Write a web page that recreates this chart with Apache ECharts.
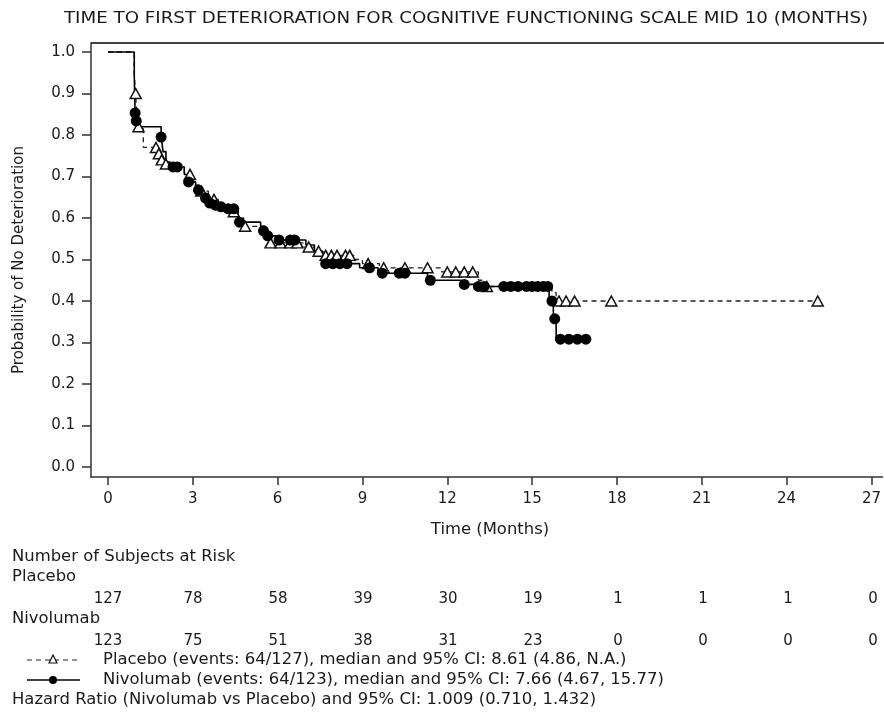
<!DOCTYPE html>
<html><head><meta charset="utf-8">
<script src="https://cdn.jsdelivr.net/npm/echarts@6/dist/echarts.min.js"></script>
<style>html,body{margin:0;padding:0;background:#fff}#c{width:884px;height:714px}</style>
</head><body><div id="c"></div>
<script>
// ---- data ----
const xTicks = [0, 3, 6, 9, 12, 15, 18, 21, 24, 27];
const yTicks = [0, 0.1, 0.2, 0.3, 0.4, 0.5, 0.6, 0.7, 0.8, 0.9, 1.0];
const placeboRisk = [127, 78, 58, 39, 30, 19, 1, 1, 1, 0];
const nivoRisk = [123, 75, 51, 38, 31, 23, 0, 0, 0, 0];

// step points [time, survival after the drop]
const placeboSteps = [
  [0,1.0],[0.93,0.95],[0.97,0.90],[1.02,0.86],[1.06,0.82],[1.25,0.77],[1.75,0.755],[1.85,0.74],
  [1.95,0.73],[2.3,0.72],[2.7,0.705],[3.0,0.68],[3.25,0.665],[3.55,0.645],[3.9,0.632],[4.3,0.615],
  [4.6,0.60],[4.8,0.58],[5.6,0.555],[5.72,0.54],[6.9,0.53],[7.3,0.52],[7.6,0.51],[8.7,0.50],
  [9.0,0.49],[9.6,0.48],[11.8,0.47],[13.1,0.45],[13.3,0.435],[15.7,0.42],[15.85,0.40],[25.1,0.40]
];
const placeboCensor = [
  [0.98,0.90],[1.08,0.82],[1.7,0.77],[1.8,0.755],[1.9,0.74],[2.05,0.73],[2.9,0.705],[3.3,0.665],
  [3.75,0.645],[4.45,0.615],[4.85,0.58],[5.75,0.54],[6.1,0.54],[6.45,0.54],[6.7,0.54],[7.1,0.53],
  [7.45,0.52],[7.7,0.51],[7.9,0.51],[8.1,0.51],[8.4,0.51],[8.55,0.51],[9.2,0.49],[9.75,0.48],
  [10.5,0.48],[11.3,0.48],[12.0,0.47],[12.3,0.47],[12.6,0.47],[12.9,0.47],[13.4,0.435],
  [15.95,0.40],[16.2,0.40],[16.5,0.40],[17.8,0.40],[25.1,0.40]
];
const nivoSteps = [
  [0,1.0],[0.93,0.94],[0.96,0.853],[1.0,0.834],[1.04,0.82],[1.88,0.795],[1.95,0.76],[2.05,0.735],
  [2.2,0.723],[2.7,0.705],[2.8,0.687],[3.1,0.667],[3.4,0.648],[3.55,0.636],[3.75,0.631],[3.95,0.627],
  [4.2,0.622],[4.6,0.59],[5.4,0.575],[5.5,0.569],[5.62,0.557],[5.95,0.547],[7.0,0.535],[7.3,0.52],
  [7.6,0.49],[8.9,0.48],[9.55,0.467],[11.3,0.45],[12.5,0.44],[13.0,0.435],[15.6,0.40],
  [15.75,0.357],[15.85,0.308],[16.95,0.308]
];
const nivoCensor = [
  [0.96,0.853],[1.0,0.834],[1.88,0.795],[2.3,0.723],[2.45,0.723],[2.85,0.687],[3.2,0.667],[3.45,0.648],
  [3.6,0.636],[3.8,0.631],[4.0,0.627],[4.25,0.622],[4.45,0.622],[4.65,0.59],[5.5,0.569],[5.65,0.557],
  [6.05,0.547],[6.45,0.547],[6.6,0.547],[7.7,0.49],[7.95,0.49],[8.2,0.49],[8.45,0.49],[9.25,0.48],
  [9.7,0.467],[10.3,0.467],[10.5,0.467],[11.4,0.45],[12.6,0.44],[13.1,0.435],[13.3,0.435],[14.0,0.435],
  [14.25,0.435],[14.5,0.435],[14.8,0.435],[15.0,0.435],[15.2,0.435],[15.4,0.435],[15.55,0.435],
  [15.7,0.40],[15.8,0.357],[16.0,0.308],[16.3,0.308],[16.6,0.308],[16.9,0.308]
];

const titleText = 'TIME TO FIRST DETERIORATION FOR COGNITIVE FUNCTIONING SCALE MID 10 (MONTHS)';
const xName = 'Time (Months)';
const yName = 'Probability of No Deterioration';
const legendPlacebo = 'Placebo (events: 64/127), median and 95% CI: 8.61 (4.86, N.A.)';
const legendNivo = 'Nivolumab (events: 64/123), median and 95% CI: 7.66 (4.67, 15.77)';
const hazardText = 'Hazard Ratio (Nivolumab vs Placebo) and 95% CI: 1.009 (0.710, 1.432)';

// ---- chart ----
const FONT = 'DejaVu Sans';
const FS = 15;
const SX = 1.095;
const TXT = '#1a1a1a';
const chart = echarts.init(document.getElementById('c'), null, {renderer: 'canvas'});

function riskAxis(gridIndex, arr) {
  return {
    type: 'value', gridIndex, min: 0, max: 27, interval: 3,
    axisLine: {show: false}, axisTick: {show: false}, splitLine: {show: false},
    axisLabel: {margin: 10, fontFamily: FONT, fontSize: FS, color: TXT,
      formatter: v => { const i = xTicks.indexOf(v); return i >= 0 ? String(arr[i]) : ''; }}
  };
}

const txt = (x, y, text, opts) => {
  opts = opts || {};
  return {
    type: 'text', x, y, silent: true, scaleX: opts.scaleX || SX,
    style: {text, fontFamily: FONT, fontSize: opts.fontSize || FS, fill: TXT,
      textVerticalAlign: 'middle', textAlign: opts.align || 'left'}
  };
};

const option = {
  animation: false,
  backgroundColor: '#fff',
  grid: [
    {left: 91, right: 0, top: 43, bottom: 237},
    {left: 108, right: 11, top: 581, height: 1},
    {left: 108, right: 11, top: 623, height: 1}
  ],
  xAxis: [
    {type: 'value', gridIndex: 0, min: -0.6, max: 27.39,
     axisLine: {show: true, onZero: false, lineStyle: {color: '#333', width: 1.5}},
     axisTick: {show: true, length: 8, customValues: xTicks, lineStyle: {color: '#333', width: 1.5}},
     splitLine: {show: false},
     axisLabel: {margin: 15, customValues: xTicks, fontFamily: FONT, fontSize: FS, color: TXT}},
    riskAxis(1, placeboRisk),
    riskAxis(2, nivoRisk)
  ],
  yAxis: [
    {type: 'value', gridIndex: 0, min: -0.0241, max: 1.0217,
     name: yName, nameLocation: 'middle', nameGap: 64, nameRotate: 90,
     nameTextStyle: {fontFamily: FONT, fontSize: FS, color: TXT},
     axisLine: {show: true, onZero: false, lineStyle: {color: '#333', width: 1.5}},
     axisTick: {show: true, length: 9, customValues: yTicks, lineStyle: {color: '#333', width: 1.5}},
     splitLine: {show: false},
     axisLabel: {margin: 16, customValues: yTicks, fontFamily: FONT, fontSize: FS, color: TXT,
       formatter: v => v.toFixed(1)}},
    {type: 'value', gridIndex: 1, show: false},
    {type: 'value', gridIndex: 2, show: false}
  ],
  series: [
    {type: 'line', name: 'Placebo', step: 'end', data: placeboSteps, symbol: 'none',
     lineStyle: {color: '#222', width: 1.3, type: [5, 4]}, z: 2},
    {type: 'line', name: 'Nivolumab', step: 'end', data: nivoSteps, symbol: 'none',
     lineStyle: {color: '#000', width: 1.6}, z: 3},
    {type: 'scatter', name: 'Placebo censored', data: placeboCensor, symbol: 'triangle', symbolSize: [11, 10],
     itemStyle: {color: '#fff', borderColor: '#111', borderWidth: 1.5, opacity: 1}, z: 4},
    {type: 'scatter', name: 'Nivolumab censored', data: nivoCensor, symbol: 'circle', symbolSize: 11,
     itemStyle: {color: '#000', opacity: 1}, z: 5}
  ],
  graphic: [
    {type: 'line', shape: {x1: 91, y1: 43, x2: 884, y2: 43}, style: {stroke: '#444', lineWidth: 2}, silent: true},
    txt(466, 19, titleText, {fontSize: 16, scaleX: 1.14, align: 'center'}),
    txt(490, 530, xName, {align: 'center'}),
    txt(12, 557, 'Number of Subjects at Risk'),
    txt(12, 577, 'Placebo'),
    txt(12, 619, 'Nivolumab'),
    {type: 'line', shape: {x1: 27, y1: 660, x2: 80, y2: 660}, style: {stroke: '#222', lineWidth: 1.2, lineDash: [5, 4]}, silent: true},
    {type: 'polygon', shape: {points: [[53, 655], [49, 663], [57, 663]]}, style: {fill: '#fff', stroke: '#111', lineWidth: 1.2}, silent: true},
    txt(103, 660, legendPlacebo),
    {type: 'line', shape: {x1: 27, y1: 680, x2: 80, y2: 680}, style: {stroke: '#000', lineWidth: 1.6}, silent: true},
    {type: 'circle', shape: {cx: 53, cy: 680, r: 4}, style: {fill: '#000'}, silent: true},
    txt(103, 680, legendNivo),
    txt(12, 700, hazardText)
  ]
};
chart.setOption(option);
</script>
</body></html>
